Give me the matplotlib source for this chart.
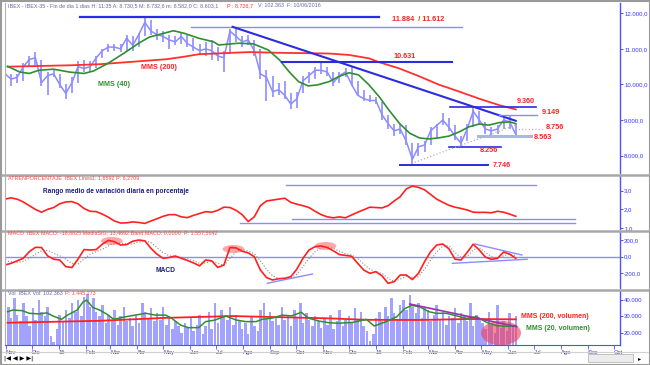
import numpy as np
import pandas as pd
import matplotlib
matplotlib.use('Agg')
import matplotlib.pyplot as plt
import matplotlib.dates as mdates
from matplotlib.patches import Ellipse, Rectangle
from matplotlib.lines import Line2D

plt.rcParams['font.family'] = ['Liberation Sans', 'DejaVu Sans']

# ---------------- datos semanales (viernes) ----------------
weeks = pd.date_range('2014-10-31', periods=85, freq='7D')

price_close = [10300,
    10150, 10200, 10500, 10700, 10750, 10050, 10250, 10300, 10000, 9750,
    10050, 10500, 10450, 10500, 10750, 10950, 11050, 11050, 11000, 11300,
    11100, 11400, 11750, 11500, 11400, 11350, 11250, 11200, 11350, 11150,
    11050, 10950, 11000, 10950, 10800, 10750, 11500, 11350, 11200, 11250,
    10950, 10300, 10200, 9800, 9850, 9700, 9450, 9600, 10100, 10250,
    10400, 10400, 10350, 10050, 10250, 10350, 10000, 9700, 9600, 9550,
    9550, 9150, 8900, 8700, 8750, 8400, 7900, 8250, 8300, 8700,
    8850, 9000, 8800, 8550, 8350, 8750, 9250, 9000, 8750, 8700,
    8750, 9000, 8950, 8600]
price_high = [10500,
    10300, 10300, 10600, 10800, 10900, 10700, 10350, 10400, 10300, 10000,
    10200, 10650, 10700, 10650, 10800, 11000, 11150, 11150, 11150, 11400,
    11350, 11450, 11880, 11800, 11550, 11500, 11400, 11350, 11450, 11400,
    11300, 11150, 11200, 11250, 11050, 10950, 11550, 11610, 11350, 11400,
    11250, 11000, 10400, 10250, 10050, 10100, 9750, 9800, 10250, 10350,
    10500, 10600, 10500, 10350, 10350, 10450, 10500, 10100, 9850, 9700,
    9650, 9500, 9150, 8900, 8900, 8850, 8350, 8350, 8400, 8800,
    8900, 9200, 9050, 8850, 8550, 8900, 9350, 9250, 8950, 8800,
    8850, 9050, 9150, 8900]
price_low = [10050,
    9950, 10050, 10100, 10500, 10550, 9950, 9700, 10200, 9900, 9600,
    9750, 10050, 10350, 10350, 10450, 10750, 10900, 10950, 10900, 10950,
    10950, 11050, 11350, 11400, 11250, 11200, 11000, 11100, 11150, 11050,
    10950, 10850, 10800, 10700, 10650, 10350, 10850, 11200, 11050, 11100,
    10800, 10150, 9550, 9650, 9700, 9600, 9300, 9350, 9750, 10050,
    10150, 10300, 10250, 9950, 10050, 10200, 9950, 9700, 9550, 9500,
    9450, 9000, 8750, 8550, 8600, 8300, 7750, 8000, 8100, 8300,
    8500, 8850, 8700, 8450, 8260, 8400, 8800, 8850, 8600, 8550,
    8600, 8750, 8750, 8580]

# medias moviles del precio
mms200_dates = ['2014-11-03', '2015-01-15', '2015-02-17', '2015-05-05', '2015-05-25',
                '2015-06-11', '2015-08-08', '2015-09-12', '2015-11-08', '2015-12-01',
                '2015-12-24', '2016-01-03', '2016-01-28', '2016-02-20', '2016-03-13',
                '2016-04-06', '2016-04-29', '2016-05-22', '2016-06-10']
mms200_vals = [10500, 10540, 10570, 10710, 10780, 10850, 10910, 10890, 10870, 10830,
               10735, 10640, 10450, 10230, 10000, 9800, 9600, 9420, 9300]
mms40_dates = ['2014-11-03', '2014-11-17', '2014-11-28', '2014-12-09', '2014-12-26',
               '2015-01-13', '2015-01-30', '2015-02-10', '2015-02-27', '2015-03-17',
               '2015-04-03', '2015-04-15', '2015-05-02', '2015-05-13', '2015-05-25',
               '2015-06-11', '2015-06-28', '2015-07-04', '2015-07-27', '2015-08-13',
               '2015-08-30', '2015-09-12', '2015-09-23', '2015-10-04', '2015-10-15',
               '2015-10-26', '2015-11-08', '2015-11-19', '2015-12-01', '2015-12-12',
               '2015-12-24', '2016-01-05', '2016-01-16', '2016-01-28', '2016-02-09',
               '2016-02-20', '2016-03-02', '2016-03-13', '2016-03-25', '2016-04-06',
               '2016-04-17', '2016-04-29', '2016-05-10', '2016-05-22', '2016-06-03',
               '2016-06-10']
mms40_vals = [10510, 10350, 10310, 10400, 10430, 10350, 10310, 10380, 10600, 10880,
              11160, 11330, 11440, 11510, 11440, 11300, 11200, 11110, 11160, 11140,
              10970, 10690, 10360, 10080, 9960, 9990, 10080, 10220, 10330, 10270,
              9990, 9650, 9280, 8910, 8630, 8500, 8470, 8500, 8550, 8670,
              8810, 8890, 8860, 8930, 8950, 8900]

atr_pct = [2.55,
    2.62, 2.55, 2.4, 2.2, 2.0, 1.85, 2.0, 2.1, 2.3, 2.4,
    2.42, 2.3, 2.05, 1.9, 1.88, 1.75, 1.58, 1.38, 1.27, 1.28,
    1.33, 1.3, 1.25, 1.38, 1.5, 1.63, 1.72, 1.72, 1.6, 1.56,
    1.68, 1.78, 1.88, 1.85, 1.95, 2.12, 2.1, 1.95, 1.72, 1.35,
    1.6, 2.2, 2.45, 2.5, 2.55, 2.6, 2.38, 2.28, 2.2, 2.1,
    1.9, 1.72, 1.6, 1.55, 1.6, 1.55, 1.7, 1.85, 1.98, 2.12,
    2.1, 2.08, 2.2, 2.45, 2.68, 3.1, 3.25, 3.18, 3.05, 2.8,
    2.55, 2.38, 2.22, 2.12, 2.05, 1.97, 1.85, 1.84, 1.84, 1.82,
    1.9, 1.85, 1.75, 1.63]

macd = [-100,
    -80, -50, -20, 60, 112, 110, 10, -30, -40, -120,
    -130, -30, 85, 80, 85, 150, 195, 180, 140, 145,
    185, 200, 190, 100, 30, -20, -10, 8, -20, -45,
    -75, -110, -40, -50, -130, -100, 110, 105, 65, 45,
    0, -160, -250, -280, -265, -260, -240, -150, -20, 80,
    120, 128, 110, 70, 25, 15, 5, -80, -160, -200,
    -180, -230, -320, -300, -220, -220, -275, -200, -60, 60,
    140, 152, 95, -30, -40, 50, 150, 80, -5, -32,
    -20, 55, 30, -19]
macd_sig = [-50,
    -60, -70, -55, -20, 30, 70, 75, 40, 10, -30,
    -80, -90, -30, 30, 60, 90, 130, 165, 165, 150,
    155, 175, 190, 170, 110, 50, 10, 0, -5, -25,
    -50, -80, -75, -55, -80, -105, -20, 60, 85, 65,
    35, -50, -150, -230, -260, -262, -255, -210, -120, -20,
    60, 105, 118, 100, 65, 35, 20, -20, -90, -150,
    -185, -200, -260, -295, -270, -235, -245, -240, -150, -40,
    60, 125, 130, 50, -10, 0, 80, 110, 50, 0,
    -20, 10, 30, 13]

# volumen: martes y viernes de cada semana
vol_dates = weeks.append(weeks - pd.Timedelta(days=3)).sort_values()
volume = [30000, 34000,
    36000, 29000, 41000, 31000, 27000, 38000, 30000, 24000,
    35000, 28000, 40000, 33000, 30000, 36000, 18000, 14000,
    22000, 31000, 27000, 34000, 29000, 38000, 33000, 40000, 30000, 42000,
    44000, 36000, 41000, 33000, 30000, 37000, 26000, 31000,
    28000, 34000, 25000, 30000, 36000, 27000, 29000, 24000,
    31000, 26000, 38000, 33000, 29000, 35000, 27000, 32000,
    28000, 36000, 25000, 30000, 22000, 27000, 24000, 20000, 26000, 23000,
    29000, 21000, 25000, 31000, 19000, 24000, 33000, 22000,
    38000, 26000, 34000, 30000, 28000, 36000, 25000, 31000, 27000, 22000,
    26000, 19000, 30000, 24000, 21000, 34000, 38000, 29000,
    33000, 27000, 30000, 25000, 36000, 28000, 31000, 24000,
    34000, 29000, 38000, 26000, 32000, 28000, 24000, 30000, 27000, 23000,
    29000, 25000, 31000, 22000, 27000, 34000, 24000, 28000,
    30000, 26000, 35000, 28000, 33000, 24000, 21000, 15000,
    19000, 29000, 33000, 27000, 36000, 30000, 41000, 32000, 28000, 37000,
    40000, 34000, 43000, 36000, 32000, 38000, 29000, 35000,
    34000, 27000, 31000, 37000, 28000, 33000, 25000, 30000,
    29000, 35000, 26000, 32000, 30000, 27000, 38000, 24000, 31000, 28000,
    26000, 22000, 33000, 25000, 20000, 37000, 23000, 27000,
    21000, 32000, 25000, 30000]

vmms20_dates = ['2014-11-03', '2014-11-09', '2014-11-20', '2014-11-28', '2014-12-10',
                '2014-12-18', '2014-12-25', '2015-01-04', '2015-01-11', '2015-01-22',
                '2015-01-29', '2015-02-02', '2015-02-09', '2015-02-17', '2015-02-27',
                '2015-03-05', '2015-03-19', '2015-03-30', '2015-04-11', '2015-04-22',
                '2015-05-04', '2015-05-11', '2015-05-21', '2015-05-30', '2015-06-11',
                '2015-06-19', '2015-06-30', '2015-07-12', '2015-07-24', '2015-08-04',
                '2015-08-16', '2015-08-23', '2015-09-04', '2015-09-15', '2015-09-26',
                '2015-10-07', '2015-10-16', '2015-10-28', '2015-11-08', '2015-11-19',
                '2015-12-05', '2015-12-21', '2015-12-30', '2016-01-13', '2016-01-25',
                '2016-02-03', '2016-02-11', '2016-02-20', '2016-03-02', '2016-03-10',
                '2016-03-22', '2016-04-03', '2016-04-14', '2016-04-26', '2016-05-07',
                '2016-05-19', '2016-05-30', '2016-06-10']
vmms20_vals = [32900, 33900, 33500, 31900, 31500, 32200, 30300, 28200, 30800, 33900,
               39000, 40000, 35500, 33900, 30800, 28200, 29800, 30800, 31900, 30800,
               30800, 28800, 24700, 23100, 23100, 26800, 27800, 30300, 27800, 26800,
               26800, 28200, 29000, 30800, 30300, 32500, 28800, 27100, 26100, 25800,
               26300, 28200, 24100, 26800, 29800, 34700, 36700, 36000, 32900, 31900,
               31900, 30300, 28800, 29800, 26400, 24300, 23900, 24300]
vmms200_dates = ['2014-11-03', '2015-02-17', '2015-05-04', '2015-07-20', '2015-11-08',
                 '2015-12-21', '2016-02-20', '2016-04-17', '2016-06-10']
vmms200_vals = [26100, 27300, 29100, 30200, 28800, 27900, 27800, 28400, 28200]

# niveles y lineas dibujadas sobre el grafico (fecha ini, fecha fin, valor ini, valor fin)
price_lines = [
    ('2015-01-25', '2016-01-05', 11884, 11884, '#2b2be0', 1.6, '-'),
    ('2015-06-02', '2016-04-09', 11612, 11612, '#8a8aff', 1.0, '-'),
    ('2015-09-15', '2016-03-29', 10631, 10631, '#2b2be0', 1.5, '-'),
    ('2015-07-20', '2016-06-10', 11620, 8980, '#2b2be0', 1.5, '-'),
    ('2016-03-26', '2016-07-03', 9360, 9360, '#2b2be0', 1.2, '-'),
    ('2016-05-22', '2016-07-04', 9149, 9149, '#8a8aff', 1.0, '-'),
    ('2016-06-09', '2016-07-12', 8756, 8756, '#a8b0d8', 0.9, ':'),
    ('2016-04-27', '2016-06-28', 8563, 8563, '#a9b9d6', 2.2, '-'),
    ('2016-03-25', '2016-05-24', 8256, 8256, '#2b2be0', 1.2, '-'),
    ('2016-01-29', '2016-05-09', 7746, 7746, '#2b2be0', 1.4, '-'),
    ('2016-02-11', '2016-06-10', 7780, 8860, '#a8b0d8', 0.9, ':'),
]
price_labels = [
    ('2016-01-19', 11812, '11.884  / 11.612'),
    ('2016-01-21', 10800, '10.631'),
    ('2016-06-11', 9535, '9.360'),
    ('2016-07-10', 9200, '9.149'),
    ('2016-07-14', 8805, '8.756'),
    ('2016-07-01', 8510, '8.563'),
    ('2016-04-30', 8145, '8.256'),
    ('2016-05-15', 7737, '7.746'),
]
atr_lines = [
    ('2015-09-20', '2016-07-03', 3.3),
    ('2015-07-29', '2016-08-17', 1.28),
    ('2015-09-26', '2016-08-17', 1.51),
]
macd_lines = [
    ('2015-08-29', '2015-10-20', -319, -208),
    ('2016-04-24', '2016-06-17', 152, 20),
    ('2016-03-29', '2016-06-23', -80, -31),
]
macd_marks = [('2015-03-03', 188), ('2015-07-21', 92), ('2015-11-04', 128)]

month_names = ['', 'Feb', 'Mar', 'Abr', 'May', 'Jun', 'Jul', 'Ago', 'Sep', 'Oct', 'Nov', 'Dic']

# ---------------- figura ----------------
W, H = 650, 365
fig = plt.figure(figsize=(6.5, 3.65), dpi=100, facecolor='white')
xmin, xmax = pd.Timestamp('2014-10-31'), pd.Timestamp('2016-10-08')
BLUE = '#3535ff'
RED = '#ff2020'


def panel(top, bottom):
    return fig.add_axes([5 / W, 1 - bottom / H, 615 / W, (bottom - top) / H])


def style(ax, ylim, ticks, labels):
    ax.set_xlim(xmin, xmax)
    ax.set_ylim(*ylim)
    ax.yaxis.tick_right()
    ax.set_yticks(ticks)
    ax.set_yticklabels(labels)
    ax.tick_params(axis='y', colors=BLUE, labelsize=4.3, length=2, width=0.6, pad=1)
    ax.tick_params(axis='x', bottom=False, labelbottom=False)
    ax.spines['top'].set_visible(False)
    ax.spines['bottom'].set_visible(False)
    ax.spines['left'].set_color('#b0b0b0')
    ax.spines['right'].set_color('#5050ff')
    ax.spines['right'].set_linewidth(1.0)


def fx(x):
    return x / W


def fy(y):
    return 1 - y / H


d = pd.to_datetime

# precio
ax_p = panel(3, 173)
style(ax_p, (7514, 12289), [8000, 9000, 10000, 11000, 12000],
      ['8.000,0', '9.000,0', '10.000,0', '11.000,0', '12.000,0'])
ax_p.vlines(weeks, price_low, price_high, color='#8c8cff', lw=1.2)
ax_p.plot(weeks, price_close, color='#8c8cff', lw=1.1)
ax_p.plot(d(mms200_dates), mms200_vals, color='#ff3030', lw=1.3)
ax_p.plot(d(mms40_dates), mms40_vals, color='#2f8f2f', lw=1.2)
for x0, x1, y0, y1, c, lw, ls in price_lines:
    ax_p.plot([d(x0), d(x1)], [y0, y1], color=c, lw=lw, ls=ls)
for x, y, t in price_labels:
    ax_p.text(d(x), y, t, color=RED, fontsize=5.2, fontweight='bold', va='center')
ax_p.text(d('2015-04-06'), 10490, 'MMS (200)', color=RED, fontsize=5.2,
          fontweight='bold', va='center')
ax_p.text(d('2015-02-15'), 10010, 'MMS (40)', color='#2f8f2f', fontsize=5.2,
          fontweight='bold', va='center')

# ATR
ax_a = panel(176, 229)
style(ax_a, (0.95, 3.79), [1, 2, 3], ['1,0', '2,0', '3,0'])
for x0, x1, y in atr_lines:
    ax_a.plot([d(x0), d(x1)], [y, y], color='#8c8cff', lw=1.0)
ax_a.plot(weeks, atr_pct, color=RED, lw=1.2)
ax_a.text(38 / 615, 0.7, 'Rango medio de variación diaria en porcentaje',
          transform=ax_a.transAxes, color='#1c1c7a', fontsize=4.7,
          fontweight='bold', va='center')

# MACD
ax_m = panel(232, 288)
style(ax_m, (-376, 296), [-200, 0, 200], ['-200,0', '0,0', '200,0'])
ax_m.axhline(0, color='#8c8cff', lw=1.0)
for x0, x1, y0, y1 in macd_lines:
    ax_m.plot([d(x0), d(x1)], [y0, y1], color='#8c8cff', lw=1.0)
for x, y in macd_marks:
    ax_m.add_patch(Ellipse((mdates.date2num(d(x)), y), 25, 96,
                           color='#ff5050', alpha=0.5, lw=0))
ax_m.plot(weeks, macd_sig, color='#8a8a8a', lw=0.8, ls=':')
ax_m.plot(weeks, macd, color=RED, lw=1.2)
ax_m.text(d('2015-04-22'), -160, 'MACD', color='#1c1c7a', fontsize=4.8,
          fontweight='bold', va='center')

# volumen
ax_v = panel(291, 345)
style(ax_v, (12454, 45580), [20000, 30000, 40000], ['20.000', '30.000', '40.000'])
ax_v.bar(vol_dates, volume, width=2.9, color='#a2a2ff', lw=0)
ax_v.plot(d(vmms200_dates), vmms200_vals, color=RED, lw=1.3)
ax_v.plot(d(vmms20_dates), vmms20_vals, color='#2f8f2f', lw=1.1)
ax_v.plot([d('2016-02-09'), d('2016-06-11')], [37600, 23700], color='#9933aa', lw=1.2)
ax_v.add_patch(Ellipse((mdates.date2num(d('2016-05-24')), 19800), 46, 15000,
                       color='#f03c5a', alpha=0.6, lw=0))
ax_v.text(d('2016-06-16'), 30100, 'MMS (200, volumen)', color=RED, fontsize=5,
          fontweight='bold', va='center')
ax_v.text(d('2016-06-22'), 22700, 'MMS (20, volumen)', color='#2f8f2f', fontsize=5,
          fontweight='bold', va='center')
ax_v.spines['bottom'].set_visible(True)
ax_v.spines['bottom'].set_color('#5050ff')
ax_v.xaxis.set_major_locator(mdates.MonthLocator())
ax_v.xaxis.set_major_formatter(plt.FuncFormatter(
    lambda v, pos: (mdates.num2date(v).strftime('%y') if mdates.num2date(v).month == 1
                    else month_names[mdates.num2date(v).month - 1])))
ax_v.tick_params(axis='x', bottom=True, labelbottom=True, length=3, width=0.6,
                 colors='#5050ff', labelcolor='#40408a', labelsize=4.2, pad=0.5)
for lab in ax_v.get_xticklabels():
    lab.set_horizontalalignment('left')

# cabeceras de cada panel
hdr = dict(fontsize=3.9, va='center')
fig.text(fx(8), fy(5.5), 'IBEX - IBEX-35 - Fin de dia 1 dias H: 11:35 A: 8.730,5 M: 8.732,6 '
         'm: 8.582,0 C: 8.603,1', color='#6565a5', **hdr)
fig.text(fx(227), fy(5.5), 'P : 8.726,7', color='#ff3030', **hdr)
fig.text(fx(258), fy(5.5), 'V: 102.363  F: 10/06/2016', color='#6565a5', **hdr)
fig.text(fx(8), fy(178), 'ATRENPORCENTAJE  IBEX Linea1: 1,6592 P: 6,2709',
         color='#ff4545', **hdr)
fig.text(fx(8), fy(232.5), 'MACD  IBEX MACD: -18,8825 MediaSIG: 13,4692 Band MACD: 0,0000  '
         'P: 1.557,5642', color='#ff4545', **hdr)
fig.text(fx(8), fy(293.5), 'Vol  IBEX Vol: 102.363', color='#6565a5', **hdr)
fig.text(fx(65), fy(293.5), 'P: 1.445.273', color='#ff4545', **hdr)

# marco, separadores y barra inferior
for y in [174.5, 230.5, 289.5]:
    fig.add_artist(Line2D([fx(2), fx(648)], [fy(y), fy(y)], color='#a8a8a8', lw=1.8))
fig.add_artist(Rectangle((fx(0.5), fy(364.5)), fx(649), 364 / H, fill=False,
                         edgecolor='#9a9a9a', lw=1.5))
fig.add_artist(Line2D([fx(2), fx(648)], [fy(352), fy(352)], color='#d0d0d0', lw=0.8))
fig.text(fx(4), fy(358.5), '|◀ ◀ ▶ ▶|', fontsize=4.5, color='black', va='center',
         family='DejaVu Sans')
fig.add_artist(Rectangle((fx(588), fy(362)), fx(45), 8 / H, facecolor='#ececec',
                         edgecolor='#b8b8b8', lw=0.6))
fig.text(fx(638), fy(358.5), '▸', fontsize=4.5, color='black', va='center',
         family='DejaVu Sans')

fig.savefig('out.png', dpi=100, facecolor='white')
